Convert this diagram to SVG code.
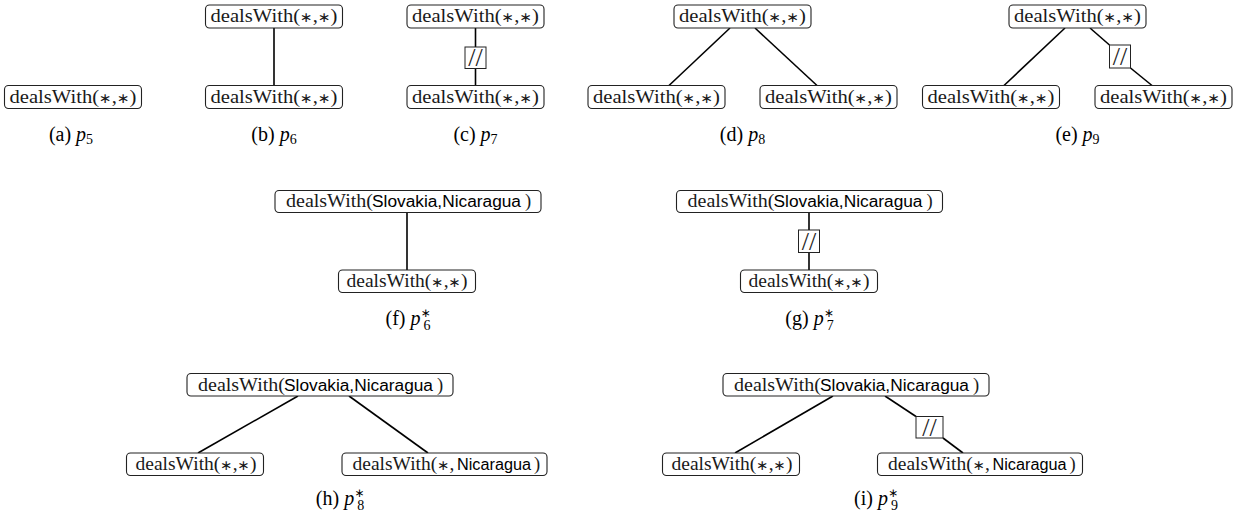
<svg xmlns="http://www.w3.org/2000/svg" width="1241" height="521" viewBox="0 0 1241 521">
<style>
.box{fill:#fff;stroke:#222;stroke-width:1.1}
.sl{fill:#fff;stroke:#222;stroke-width:1}
.t{font-family:"Liberation Serif",serif;font-size:19px;fill:#1a1a1a}
.t3{font-family:"Liberation Serif",serif;font-size:18.5px;fill:#1a1a1a}
.a{font-family:"DejaVu Sans",sans-serif;font-size:14px}
.ac{font-family:"DejaVu Sans",sans-serif;font-size:12px}
.s{font-family:"Liberation Sans",sans-serif;font-size:16px;fill:#000}
.m{text-anchor:middle}
.e{stroke:#000;stroke-width:1.6;fill:none}
.cap{font-family:"Liberation Serif",serif;font-size:20px;fill:#000;text-anchor:middle}
.it{font-style:italic}
.sub{font-size:14px}
.slt{font-family:"Liberation Serif",serif;font-size:26px;fill:#222;text-anchor:middle}
</style>
<g id="connectors">
  <line class="e" x1="274" y1="28" x2="274" y2="85.5"/>
  <line class="e" x1="475.5" y1="28" x2="475.5" y2="47"/>
  <line class="e" x1="475.5" y1="68.5" x2="475.5" y2="85.5"/>
  <line class="e" x1="730" y1="28" x2="669" y2="85.5"/>
  <line class="e" x1="755" y1="28" x2="817" y2="85.5"/>
  <line class="e" x1="1065" y1="28" x2="1004" y2="85.5"/>
  <line class="e" x1="1090" y1="28" x2="1109.5" y2="45"/>
  <line class="e" x1="1130.5" y1="68" x2="1152" y2="85.5"/>
  <line class="e" x1="407" y1="212.5" x2="407" y2="270"/>
  <line class="e" x1="809" y1="212.5" x2="809" y2="230"/>
  <line class="e" x1="809" y1="252.5" x2="809" y2="270"/>
  <line class="e" x1="298" y1="396" x2="198" y2="453"/>
  <line class="e" x1="349" y1="396" x2="428" y2="453"/>
  <line class="e" x1="833" y1="396" x2="735" y2="453"/>
  <line class="e" x1="885" y1="396" x2="916" y2="416.5"/>
  <line class="e" x1="943" y1="438" x2="963" y2="453"/>
</g>
<g id="slashes">
  <g id="c-slash"><rect class="sl" x="465" y="47" width="21" height="21.5"/><text class="slt" x="475.5" y="66">//</text></g>
  <g id="e-slash"><rect class="sl" x="1109.5" y="45" width="21" height="23"/><text class="slt" x="1120" y="65">//</text></g>
  <g id="g-slash"><rect class="sl" x="798.5" y="230" width="21" height="22.5"/><text class="slt" x="809" y="249.5">//</text></g>
  <g id="i-slash"><rect class="sl" x="916" y="416.5" width="27" height="21.5"/><text class="slt" x="929.5" y="435.5">//</text></g>
</g>
<g id="a-n1"><rect class="box" x="4.5" y="85.5" width="137" height="23" rx="4"/><text class="t m" x="73" y="102.5" textLength="127" lengthAdjust="spacingAndGlyphs">dealsWith(<tspan class="a">∗</tspan>,<tspan class="a">∗</tspan>)</text></g>
<g id="b-n1"><rect class="box" x="205.5" y="5" width="137" height="23" rx="4"/><text class="t m" x="274" y="22" textLength="127" lengthAdjust="spacingAndGlyphs">dealsWith(<tspan class="a">∗</tspan>,<tspan class="a">∗</tspan>)</text></g>
<g id="b-n2"><rect class="box" x="205.5" y="85.5" width="137" height="23" rx="4"/><text class="t m" x="274" y="102.5" textLength="127" lengthAdjust="spacingAndGlyphs">dealsWith(<tspan class="a">∗</tspan>,<tspan class="a">∗</tspan>)</text></g>
<g id="c-n1"><rect class="box" x="407" y="5" width="137" height="23" rx="4"/><text class="t m" x="475.5" y="22" textLength="127" lengthAdjust="spacingAndGlyphs">dealsWith(<tspan class="a">∗</tspan>,<tspan class="a">∗</tspan>)</text></g>
<g id="c-n2"><rect class="box" x="407" y="85.5" width="137" height="23" rx="4"/><text class="t m" x="475.5" y="102.5" textLength="127" lengthAdjust="spacingAndGlyphs">dealsWith(<tspan class="a">∗</tspan>,<tspan class="a">∗</tspan>)</text></g>
<g id="d-n1"><rect class="box" x="674" y="5" width="137" height="23" rx="4"/><text class="t m" x="742.5" y="22" textLength="127" lengthAdjust="spacingAndGlyphs">dealsWith(<tspan class="a">∗</tspan>,<tspan class="a">∗</tspan>)</text></g>
<g id="d-n2"><rect class="box" x="588" y="85.5" width="137" height="23" rx="4"/><text class="t m" x="656.5" y="102.5" textLength="127" lengthAdjust="spacingAndGlyphs">dealsWith(<tspan class="a">∗</tspan>,<tspan class="a">∗</tspan>)</text></g>
<g id="d-n3"><rect class="box" x="760" y="85.5" width="137" height="23" rx="4"/><text class="t m" x="828.5" y="102.5" textLength="127" lengthAdjust="spacingAndGlyphs">dealsWith(<tspan class="a">∗</tspan>,<tspan class="a">∗</tspan>)</text></g>
<g id="e-n1"><rect class="box" x="1009" y="5" width="137" height="23" rx="4"/><text class="t m" x="1077.5" y="22" textLength="127" lengthAdjust="spacingAndGlyphs">dealsWith(<tspan class="a">∗</tspan>,<tspan class="a">∗</tspan>)</text></g>
<g id="e-n2"><rect class="box" x="922.5" y="85.5" width="137" height="23" rx="4"/><text class="t m" x="991" y="102.5" textLength="127" lengthAdjust="spacingAndGlyphs">dealsWith(<tspan class="a">∗</tspan>,<tspan class="a">∗</tspan>)</text></g>
<g id="e-n3"><rect class="box" x="1095" y="85.5" width="137" height="23" rx="4"/><text class="t m" x="1163.5" y="102.5" textLength="127" lengthAdjust="spacingAndGlyphs">dealsWith(<tspan class="a">∗</tspan>,<tspan class="a">∗</tspan>)</text></g>
<g id="f-n1"><rect class="box" x="275" y="190.5" width="266" height="22" rx="4"/><text class="t3" x="286" y="207" textLength="87" lengthAdjust="spacingAndGlyphs">dealsWith(</text><text class="s" x="372" y="207" textLength="149" lengthAdjust="spacingAndGlyphs">Slovakia,Nicaragua</text><text class="t3" x="525" y="207">)</text></g>
<g id="f-n2"><rect class="box" x="338.5" y="270" width="137" height="22.5" rx="4"/><text class="t3 m" x="407" y="286.5" textLength="121" lengthAdjust="spacingAndGlyphs">dealsWith(<tspan class="a">∗</tspan>,<tspan class="a">∗</tspan>)</text></g>
<g id="g-n1"><rect class="box" x="676.5" y="190.5" width="266" height="22" rx="4"/><text class="t3" x="687.5" y="207" textLength="87" lengthAdjust="spacingAndGlyphs">dealsWith(</text><text class="s" x="773.5" y="207" textLength="149" lengthAdjust="spacingAndGlyphs">Slovakia,Nicaragua</text><text class="t3" x="926.5" y="207">)</text></g>
<g id="g-n2"><rect class="box" x="740.5" y="270" width="137" height="22.5" rx="4"/><text class="t3 m" x="809" y="286.5" textLength="121" lengthAdjust="spacingAndGlyphs">dealsWith(<tspan class="a">∗</tspan>,<tspan class="a">∗</tspan>)</text></g>
<g id="h-n1"><rect class="box" x="187" y="373.5" width="266" height="22.5" rx="4"/><text class="t3" x="198" y="390.5" textLength="87" lengthAdjust="spacingAndGlyphs">dealsWith(</text><text class="s" x="284" y="390.5" textLength="149" lengthAdjust="spacingAndGlyphs">Slovakia,Nicaragua</text><text class="t3" x="437" y="390.5">)</text></g>
<g id="h-n2"><rect class="box" x="126.5" y="453" width="137" height="22.5" rx="4"/><text class="t3 m" x="196" y="469.5" textLength="121" lengthAdjust="spacingAndGlyphs">dealsWith(<tspan class="a">∗</tspan>,<tspan class="a">∗</tspan>)</text></g>
<g id="h-n3"><rect class="box" x="342" y="453" width="205" height="22.5" rx="4"/><text class="t3" x="352.5" y="469.5" textLength="102" lengthAdjust="spacingAndGlyphs">dealsWith(<tspan class="a">∗</tspan>,</text><text class="s" x="457" y="469.5" textLength="74" lengthAdjust="spacingAndGlyphs">Nicaragua</text><text class="t3" x="534" y="469.5">)</text></g>
<g id="i-n1"><rect class="box" x="723" y="373.5" width="266" height="22.5" rx="4"/><text class="t3" x="734" y="390.5" textLength="87" lengthAdjust="spacingAndGlyphs">dealsWith(</text><text class="s" x="820" y="390.5" textLength="149" lengthAdjust="spacingAndGlyphs">Slovakia,Nicaragua</text><text class="t3" x="973" y="390.5">)</text></g>
<g id="i-n2"><rect class="box" x="662.5" y="453" width="137" height="22.5" rx="4"/><text class="t3 m" x="732" y="469.5" textLength="121" lengthAdjust="spacingAndGlyphs">dealsWith(<tspan class="a">∗</tspan>,<tspan class="a">∗</tspan>)</text></g>
<g id="i-n3"><rect class="box" x="877.5" y="453" width="205" height="22.5" rx="4"/><text class="t3" x="888" y="469.5" textLength="102" lengthAdjust="spacingAndGlyphs">dealsWith(<tspan class="a">∗</tspan>,</text><text class="s" x="992.5" y="469.5" textLength="74" lengthAdjust="spacingAndGlyphs">Nicaragua</text><text class="t3" x="1069.5" y="469.5">)</text></g>
<g id="captions">
  <text class="cap" x="71" y="141">(a) <tspan class="it">p</tspan><tspan class="sub" dy="3">5</tspan></text>
  <text class="cap" x="274" y="141">(b) <tspan class="it">p</tspan><tspan class="sub" dy="3">6</tspan></text>
  <text class="cap" x="475.5" y="141">(c) <tspan class="it">p</tspan><tspan class="sub" dy="3">7</tspan></text>
  <text class="cap" x="742.5" y="141">(d) <tspan class="it">p</tspan><tspan class="sub" dy="3">8</tspan></text>
  <text class="cap" x="1077.5" y="141">(e) <tspan class="it">p</tspan><tspan class="sub" dy="3">9</tspan></text>
  <text class="cap" x="408" y="325">(f) <tspan class="it">p</tspan><tspan class="ac" dy="-8">∗</tspan><tspan class="sub" dx="-7" dy="13">6</tspan></text>
  <text class="cap" x="809.5" y="325">(g) <tspan class="it">p</tspan><tspan class="ac" dy="-8">∗</tspan><tspan class="sub" dx="-7" dy="13">7</tspan></text>
  <text class="cap" x="340" y="505">(h) <tspan class="it">p</tspan><tspan class="ac" dy="-8">∗</tspan><tspan class="sub" dx="-7" dy="13">8</tspan></text>
  <text class="cap" x="876" y="505">(i) <tspan class="it">p</tspan><tspan class="ac" dy="-8">∗</tspan><tspan class="sub" dx="-7" dy="13">9</tspan></text>
</g>
</svg>
